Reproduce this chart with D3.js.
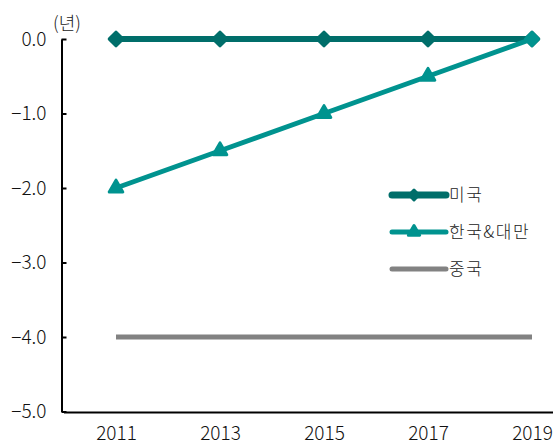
<!DOCTYPE html>
<html>
<head>
<meta charset="utf-8">
<script src="https://cdn.jsdelivr.net/npm/d3@7/dist/d3.min.js"></script>
<style>
  html, body { margin: 0; padding: 0; background: #fff; }
  svg { display: block; font-family: "Noto Sans CJK KR", "Noto Sans", sans-serif; }
</style>
</head>
<body>
<svg id="chart" width="556" height="447"></svg>
<script>
// Years shown on the x axis
const years = [2011, 2013, 2015, 2017, 2019];
// Gap (years) by region
const usValues = [0, 0, 0, 0, 0];
const krtwValues = [-2, -1.5, -1, -0.5, 0];
const cnValues = [-4, -4, -4, -4, -4];
// Y ticks
const yTicks = [0, -1, -2, -3, -4, -5];
const seriesNames = ["미국", "한국&대만", "중국"];
const unitLabel = "(년)";

const svg = d3.select("#chart");
const FONT = "'Noto Sans CJK KR', 'Noto Sans', sans-serif";

const x = d3.scaleLinear().domain([2010, 2020]).range([64, 584]);
const y = d3.scaleLinear().domain([-5, 0]).range([411.5, 39]);

const fmt = v => (v < 0 ? "\u2212" : "") + Math.abs(v).toFixed(1);

// Y axis with inward ticks
const yAxis = svg.append("g")
  .attr("transform", "translate(61.5,0)")
  .call(d3.axisRight(y).tickValues(yTicks).tickSize(5).tickFormat(fmt).tickSizeOuter(0));
yAxis.select(".domain").attr("stroke", "#000").attr("stroke-width", 2);
yAxis.selectAll(".tick line").attr("stroke", "#000").attr("stroke-width", 2);
yAxis.selectAll(".tick text")
  .attr("x", -15).attr("text-anchor", "end")
  .attr("fill", "#111").attr("font-size", 19)
  .attr("font-weight", 300)
  .attr("font-family", FONT);

// X axis
const xAxis = svg.append("g")
  .attr("transform", "translate(0,412.5)")
  .call(d3.axisBottom(x).tickValues(years).tickSize(0).tickFormat(d3.format("d")));
xAxis.select(".domain").remove();
svg.append("line")
  .attr("x1", 64).attr("x2", 553)
  .attr("y1", 412.5).attr("y2", 412.5)
  .attr("stroke", "#000").attr("stroke-width", 2);
xAxis.selectAll(".tick text")
  .attr("y", 14).attr("dy", "0.71em")
  .attr("fill", "#111").attr("font-size", 19)
  .attr("font-weight", 300)
  .attr("font-family", FONT);

// Unit label
svg.append("text")
  .attr("x", 67).attr("y", 30)
  .attr("text-anchor", "middle")
  .attr("font-size", 18).attr("font-weight", 300).attr("fill", "#222")
  .text(unitLabel);

const line = d3.line().x(d => x(d.year)).y(d => y(d.v));
const toPts = vals => years.map((yr, i) => ({ year: yr, v: vals[i] }));

const colors = { us: "#006e6a", krtw: "#00938f", cn: "#828282" };

// China line
svg.append("path")
  .datum(toPts(cnValues))
  .attr("d", line).attr("fill", "none")
  .attr("stroke", colors.cn).attr("stroke-width", 5);

// US line with diamond markers
svg.append("path")
  .datum(toPts(usValues))
  .attr("d", line).attr("fill", "none")
  .attr("stroke", colors.us).attr("stroke-width", 6);

const diamond = d3.symbol().type(d3.symbolDiamond2).size(110);
const triangle = d3.symbol().type(d3.symbolTriangle).size(80);

svg.append("g").selectAll("path")
  .data(toPts(usValues)).join("path")
  .attr("transform", d => `translate(${x(d.year)},${y(d.v)})`)
  .attr("d", diamond)
  .attr("fill", colors.us).attr("stroke", colors.us)
  .attr("stroke-width", 3.5).attr("stroke-linejoin", "round");

// Korea & Taiwan line with triangle markers
svg.append("path")
  .datum(toPts(krtwValues))
  .attr("d", line).attr("fill", "none")
  .attr("stroke", colors.krtw).attr("stroke-width", 5);

svg.append("g").selectAll("path")
  .data(toPts(krtwValues)).join("path")
  .attr("transform", d => `translate(${x(d.year)},${y(d.v)})`)
  .attr("d", (d, i) => i === years.length - 1 ? diamond() : triangle())
  .attr("fill", colors.krtw).attr("stroke", colors.krtw)
  .attr("stroke-width", 3).attr("stroke-linejoin", "round");

// Legend
const legend = svg.append("g");
const legendDiamond = d3.symbol().type(d3.symbolDiamond2).size(60);
const legendTriangle = d3.symbol().type(d3.symbolTriangle).size(55);
const legendRows = [
  { name: seriesNames[0], color: colors.us, w: 7, sym: legendDiamond, y: 195 },
  { name: seriesNames[1], color: colors.krtw, w: 5, sym: legendTriangle, y: 232 },
  { name: seriesNames[2], color: colors.cn, w: 5, sym: null, y: 269 }
];
legendRows.forEach(r => {
  legend.append("line")
    .attr("x1", 392).attr("x2", 446)
    .attr("y1", r.y).attr("y2", r.y)
    .attr("stroke", r.color).attr("stroke-width", r.w)
    .attr("stroke-linecap", "round");
  if (r.sym) {
    legend.append("path")
      .attr("transform", `translate(414,${r.y})`)
      .attr("d", r.sym())
      .attr("fill", r.color).attr("stroke", r.color)
      .attr("stroke-width", 3).attr("stroke-linejoin", "round");
  }
  legend.append("text")
    .attr("x", 449).attr("y", r.y).attr("dy", "0.36em")
    .attr("font-size", 17).attr("font-weight", 300).attr("fill", "#222")
    .attr("letter-spacing", "1.5px")
    .text(r.name);
});
</script>
</body>
</html>
